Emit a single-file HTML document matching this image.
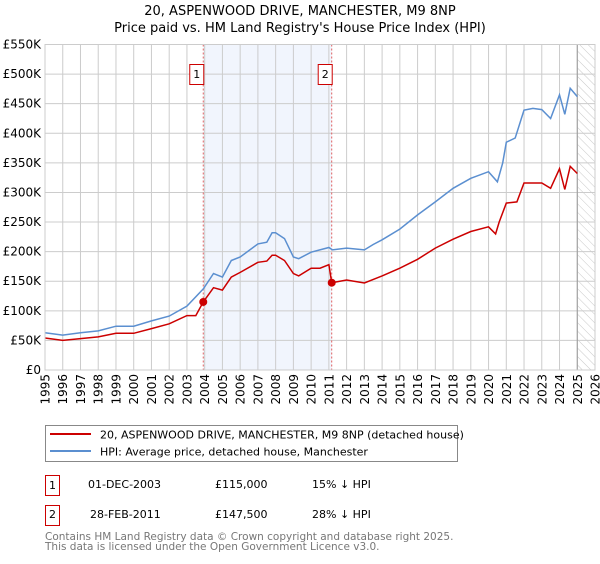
<!DOCTYPE html>
<html><head><meta charset="utf-8"><style>
body{margin:0;background:#fff;font-family:"DejaVu Sans","Liberation Sans",sans-serif;}
svg text{font-family:"DejaVu Sans","Liberation Sans",sans-serif;}
</style></head><body>
<svg id="c" width="600" height="560" viewBox="0 0 600 560" xmlns="http://www.w3.org/2000/svg">
<defs><pattern id="hatch" width="6" height="6" patternUnits="userSpaceOnUse" patternTransform="rotate(-45)"><line x1="0" y1="0" x2="0" y2="6" stroke="#bbb" stroke-width="0.8"/></pattern></defs>
<text x="300" y="15" text-anchor="middle" font-size="13">20, ASPENWOOD DRIVE, MANCHESTER, M9 8NP</text>
<text x="300" y="32" text-anchor="middle" font-size="13">Price paid vs. HM Land Registry's House Price Index (HPI)</text>
<g id="plot"></g>
<rect x="45.5" y="425.5" width="412" height="36" fill="#fff" stroke="#888"/>
<line x1="50" y1="434" x2="91" y2="434" stroke="#cc0000" stroke-width="2"/>
<text x="100" y="438.5" font-size="11">20, ASPENWOOD DRIVE, MANCHESTER, M9 8NP (detached house)</text>
<line x1="50" y1="451" x2="91" y2="451" stroke="#5b8fd0" stroke-width="2"/>
<text x="100" y="455.5" font-size="11">HPI: Average price, detached house, Manchester</text>
<g>
<rect x="45.5" y="475.5" width="14" height="20" fill="#fff" stroke="#cc0000"/>
<text x="52.5" y="489" font-size="11" text-anchor="middle">1</text>
<text x="88" y="488" font-size="11">01-DEC-2003</text>
<text x="215" y="488" font-size="11">£115,000</text>
<text x="312" y="488" font-size="11">15% ↓ HPI</text>
</g>
<g>
<rect x="45.5" y="505.5" width="14" height="20" fill="#fff" stroke="#cc0000"/>
<text x="52.5" y="518" font-size="11" text-anchor="middle">2</text>
<text x="90" y="518" font-size="11">28-FEB-2011</text>
<text x="215" y="518" font-size="11">£147,500</text>
<text x="312" y="518" font-size="11">28% ↓ HPI</text>
</g>
<text x="45" y="540" font-size="10.5" fill="#777">Contains HM Land Registry data © Crown copyright and database right 2025.</text>
<text x="45" y="550" font-size="10.5" fill="#777">This data is licensed under the Open Government Licence v3.0.</text>
</svg>
<script>
const hpiYears=[1995,1996,1997,1998,1999,2000,2001,2002,2003,2003.92,2004.5,2005,2005.5,2006,2007,2007.5,2007.8,2008,2008.5,2009,2009.3,2010,2011,2011.2,2012,2013,2013.5,2014,2015,2016,2017,2018,2019,2020,2020.5,2020.8,2021,2021.5,2022,2022.5,2023,2023.5,2024,2024.3,2024.6,2025];
const hpiValues=[63,59,63,66,74,74,83,91,108,137,163,157,185,191,213,216,232,232,222,191,188,199,207,203,206,203,212,220,238,262,284,307,324,335,318,350,385,392,439,442,440,425,465,432,476,462];
const propYears=[1995,1996,1997,1998,1999,2000,2001,2002,2003,2003.5,2003.92,2004.5,2005,2005.5,2006,2007,2007.5,2007.8,2008,2008.5,2009,2009.3,2010,2010.5,2011,2011.16,2012,2013,2014,2015,2016,2017,2018,2019,2020,2020.4,2020.6,2021,2021.6,2022,2023,2023.5,2024,2024.3,2024.6,2025];
const propValues=[54,50,53,56,62,62,70,78,92,92,115,139,135,157,165,182,184,194,194,185,163,159,172,172,178,147.5,152,147,159,172,187,206,221,234,242,230,250,282,284,316,316,307,340,305,344,332];
const saleYears=[2003.92,2011.16];
const saleValues=[115,147.5];
const saleLabels=["1","2"];
const yTicks=[0,50,100,150,200,250,300,350,400,450,500,550];
const yTickLabels=["£0","£50K","£100K","£150K","£200K","£250K","£300K","£350K","£400K","£450K","£500K","£550K"];
const xTicks=[1995,1996,1997,1998,1999,2000,2001,2002,2003,2004,2005,2006,2007,2008,2009,2010,2011,2012,2013,2014,2015,2016,2017,2018,2019,2020,2021,2022,2023,2024,2025,2026];

const L=45,R=595,T=44.5,B=370;
const X=y=>L+(y-1995)*(R-L)/31;
const Y=v=>B-v*(B-T)/550;
const NS="http://www.w3.org/2000/svg";
const g=document.getElementById('plot');
function mk(tag,attrs){const e=document.createElementNS(NS,tag);for(const k in attrs)e.setAttribute(k,attrs[k]);g.appendChild(e);return e;}

let e=mk('rect',{x:X(saleYears[0]),y:T,width:X(saleYears[1])-X(saleYears[0]),height:B-T,fill:'#eef3fc',opacity:0.8});


e=mk('rect',{x:X(2025),y:T,width:R-X(2025),height:B-T,fill:'url(#hatch)'});


yTicks.forEach((v,i)=>{
  let l=mk('line',{x1:L,x2:R,y1:Y(v),y2:Y(v),stroke:'#ccc','stroke-width':1});
  
  
  let t=mk('text',{x:L-4,y:Y(v)+4,'text-anchor':'end','font-size':12});
  t.textContent=yTickLabels[i];
  
  
});
xTicks.forEach(yr=>{
  let l=mk('line',{x1:X(yr),x2:X(yr),y1:T,y2:B,stroke:'#ccc','stroke-width':1});
  
  
  let t=mk('text',{x:0,y:0,'text-anchor':'end','font-size':12,transform:`translate(${X(yr)+4.5},374) rotate(-90)`});
  t.textContent=yr;
  
  
});
e=mk('line',{x1:X(2025),x2:X(2025),y1:T,y2:B,stroke:'#999','stroke-width':1});


saleYears.forEach((yr,i)=>{
  let l=mk('line',{x1:X(yr),x2:X(yr),y1:T,y2:B,stroke:'#e06060','stroke-width':1,'stroke-dasharray':'2,2'});
  
  
  let r=mk('rect',{x:X(yr)-13.5,y:64.5,width:14,height:20,fill:'#fff',stroke:'#cc0000'});
  
  
  let t=mk('text',{x:X(yr)-6.5,y:78,'text-anchor':'middle','font-size':11});
  t.textContent=saleLabels[i];
  
  
});
function path(xs,vs){return xs.map((x,i)=>(i?'L':'M')+X(x).toFixed(1)+' '+Y(vs[i]).toFixed(1)).join(' ');}
e=mk('path',{d:path(hpiYears,hpiValues),fill:'none',stroke:'#5b8fd0','stroke-width':1.5});


e=mk('path',{d:path(propYears,propValues),fill:'none',stroke:'#cc0000','stroke-width':1.5});


saleYears.forEach((yr,i)=>{
  let c=mk('circle',{cx:X(yr),cy:Y(saleValues[i]),r:4,fill:'#cc0000'});
  
  
});
e=mk('rect',{x:L,y:T,width:R-L,height:B-T,fill:'none',stroke:'#ccc'});


</script>
</body></html>
